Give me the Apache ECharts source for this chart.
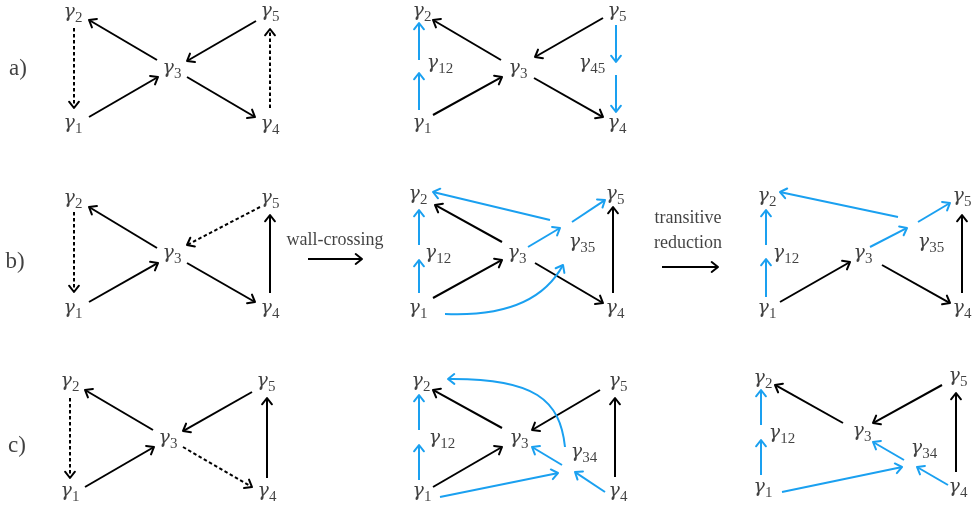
<!DOCTYPE html>
<html><head><meta charset="utf-8">
<script src="https://cdn.jsdelivr.net/npm/echarts@6/dist/echarts.min.js"></script>
<style>html,body{margin:0;padding:0;background:#fff}#c{width:973px;height:510px}</style>
</head><body><div id="c"></div>
<script>
// Node labels: [x, y, subscript]
const nodeLabels = [
  // a) left
  [73,14,'2'],[270,13,'5'],[172,70,'3'],[73,125,'1'],[270,126,'4'],
  // a) middle
  [422,13,'2'],[440,65,'12'],[422,125,'1'],[518,70,'3'],[592,65,'45'],[617,13,'5'],[617,125,'4'],
  // b) left
  [73,200,'2'],[73,310,'1'],[172,255,'3'],[270,200,'5'],[270,310,'4'],
  // b) middle
  [418,196,'2'],[438,255,'12'],[418,310,'1'],[517,255,'3'],[582,244,'35'],[615,196,'5'],[615,310,'4'],
  // b) right
  [767,198,'2'],[786,255,'12'],[767,310,'1'],[863,255,'3'],[931,244,'35'],[962,198,'5'],[962,310,'4'],
  // c) left
  [70,383,'2'],[70,493,'1'],[168,440,'3'],[266,383,'5'],[267,493,'4'],
  // c) middle
  [421,383,'2'],[442,440,'12'],[422,493,'1'],[519,440,'3'],[584,454,'34'],[618,383,'5'],[618,493,'4'],
  // c) right
  [763,380,'2'],[782,435,'12'],[763,489,'1'],[862,433,'3'],[924,450,'34'],[958,378,'5'],[958,489,'4']
];
const panelLabels = [[18,69,'a)'],[15,262,'b)'],[17,446,'c)']];
const captions = [[335,240,'wall-crossing'],[688,218,'transitive'],[688,243,'reduction']];

// Edges: [x1, y1, x2, y2] (arrow points to x2,y2)
const blackEdges = [
  [157,60,89,20],[89,117,158,77],[256,21,187,61],[187,77,255,117],
  [501,60,433,20],[433,115,502,77],[603,18,535,57],[534,78,603,117],
  [157,248,89,207],[89,302,158,263],[187,263,255,302],[270,293,270,215],
  [502,242,435,205],[433,298,502,260],[535,263,603,303],[613,293,613,207],
  [780,302,850,262],[882,265,950,303],[962,293,962,215],
  [153,430,85,390],[85,487,154,447],[252,392,183,431],[267,478,267,398],
  [502,428,433,390],[600,390,532,430],[433,487,502,447],[615,477,615,398],
  [843,423,775,385],[942,385,873,423],[956,472,956,393],
  [308,259,362,259],[662,267,718,267]
];
const dashedEdges = [
  [74,28,74,108],[270,108,270,29],
  [74,212,74,292],[260,207,187,245],
  [70,398,70,478],[183,447,252,487]
];
const blueEdges = [
  [419,110,419,73],[419,60,419,23],[616,25,616,62],[616,75,616,112],
  [419,293,419,260],[419,245,419,210],[550,220,433,192],[528,247,560,228],[572,222,605,200],
  [766,297,766,259],[766,245,766,210],[898,217,780,192],[870,247,907,228],[918,222,950,203],
  [419,480,419,445],[419,430,419,395],[562,465,532,447],[605,492,575,472],[440,497,558,473],
  [761,475,761,440],[761,425,761,390],[782,492,902,467],[904,460,873,442],[948,485,917,467]
];
// Cubic curves: [x1, y1, c1x, c1y, c2x, c2y, x2, y2]
const blueCurves = [
  [445,314,490,316,540,308,563,265],
  [565,447,560,400,535,378,448,379]
];

const BLUE = '#1aa0f0', BLACK = '#000';

function head(tip, from, color) {
  const dx = tip[0]-from[0], dy = tip[1]-from[1];
  const len = Math.hypot(dx, dy) || 1;
  const bx = -dx/len, by = -dy/len;
  const L = 8, a = 38*Math.PI/180, c = Math.cos(a), s = Math.sin(a);
  const p1 = [tip[0] + L*(bx*c - by*s), tip[1] + L*(bx*s + by*c)];
  const p2 = [tip[0] + L*(bx*c + by*s), tip[1] + L*(-bx*s + by*c)];
  return {type:'polyline', shape:{points:[p1, tip, p2]},
    style:{stroke:color, lineWidth:2, fill:'none', lineJoin:'round', lineCap:'round'}};
}

function straight(color, dash) {
  return function (params, api) {
    const p1 = api.coord([api.value(0), api.value(1)]);
    const p2 = api.coord([api.value(2), api.value(3)]);
    const dx = p2[0]-p1[0], dy = p2[1]-p1[1], len = Math.hypot(dx, dy);
    const e = [p2[0]-dx/len*1, p2[1]-dy/len*1];
    return {type:'group', children:[
      {type:'line', shape:{x1:p1[0], y1:p1[1], x2:e[0], y2:e[1]},
        style:{stroke:color, lineWidth:2, lineDash: dash || null}},
      head(p2, p1, color)
    ]};
  };
}

function curve(color) {
  return function (params, api) {
    const p = [];
    for (let i = 0; i < 4; i++) p.push(api.coord([api.value(2*i), api.value(2*i+1)]));
    return {type:'group', children:[
      {type:'bezierCurve', shape:{x1:p[0][0], y1:p[0][1], cpx1:p[1][0], cpy1:p[1][1],
        cpx2:p[2][0], cpy2:p[2][1], x2:p[3][0], y2:p[3][1]},
        style:{stroke:color, lineWidth:2, fill:'none'}},
      head(p[3], p[2], color)
    ]};
  };
}

const FONT = 'Liberation Serif';
const chart = echarts.init(document.getElementById('c'), null, {renderer:'canvas'});
chart.setOption({
  animation: false,
  backgroundColor: '#fff',
  grid: {left:0, right:0, top:0, bottom:0},
  xAxis: {type:'value', min:0, max:973, show:false},
  yAxis: {type:'value', min:0, max:510, inverse:true, show:false},
  series: [
    {type:'custom', renderItem: straight(BLACK), data: blackEdges, encode:{x:[0,2], y:[1,3]}, silent:true},
    {type:'custom', renderItem: straight(BLACK, [3.5,2.5]), data: dashedEdges, encode:{x:[0,2], y:[1,3]}, silent:true},
    {type:'custom', renderItem: straight(BLUE), data: blueEdges, encode:{x:[0,2], y:[1,3]}, silent:true},
    {type:'custom', renderItem: curve(BLUE), data: blueCurves, encode:{x:[0,2,4,6], y:[1,3,5,7]}, silent:true},
    {type:'scatter', data: nodeLabels, symbolSize: 1, itemStyle:{color:'rgba(0,0,0,0)'}, silent:true,
      label:{show:true, position:'inside', color:'#000',
        formatter: p => '{g|γ}{s|' + p.data[2] + '}',
        rich:{
          g:{fontFamily:'DejaVu Serif', fontStyle:'italic', fontSize:19, verticalAlign:'bottom', padding:[0,0,4,0], color:'#111'},
          s:{fontFamily:FONT, fontSize:15, verticalAlign:'bottom', color:'#111'}
        }}},
    {type:'scatter', data: panelLabels, symbolSize: 1, itemStyle:{color:'rgba(0,0,0,0)'}, silent:true,
      label:{show:true, position:'inside', color:'#111', fontFamily:FONT, fontSize:23,
        formatter: p => p.data[2]}},
    {type:'scatter', data: captions, symbolSize: 1, itemStyle:{color:'rgba(0,0,0,0)'}, silent:true,
      label:{show:true, position:'inside', color:'#111', fontFamily:FONT, fontSize:18,
        formatter: p => p.data[2]}}
  ]
});
</script></body></html>
